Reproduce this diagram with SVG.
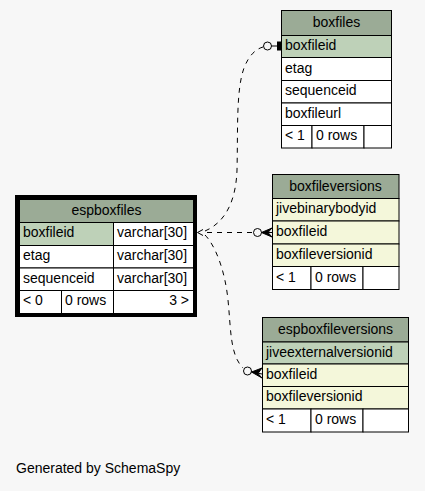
<svg xmlns="http://www.w3.org/2000/svg" width="425" height="491" viewBox="0 0 425 491">
<style>
text{font-family:"Liberation Sans",Arial,sans-serif;font-size:14px;fill:#000}
.c{fill:#fff;stroke:#000;stroke-width:1}
.h{fill:#9bab96;stroke:#000;stroke-width:1}
.pk{fill:#bed1b8;stroke:#000;stroke-width:1}
.fk{fill:#f4f7da;stroke:#000;stroke-width:1}
.mid{text-anchor:middle}
.end{text-anchor:end}
.e{fill:none;stroke:#000;stroke-width:1;stroke-dasharray:5,5}
.m{fill:none;stroke:#000;stroke-width:1}
</style>
<rect width="425" height="491" fill="#f7f7f7"/>
<g id="connectors">
<path class="e" d="M205,231 C226,222 236,200 237,170 C238,130 236,90 244,68 C249,55 256,49 263,47"/>
<path class="e" d="M207,232.5 L253,232.5"/>
<path class="e" d="M205,235 C215,245 225,270 228,300 C231,330 230,355 243,368"/>
<path class="m" d="M203,229.5 L197.5,232.5 L203,235.5"/>
<circle class="m" cx="267.5" cy="46" r="4"/>
<rect x="277" y="41.5" width="4" height="9" fill="#000"/>
<line class="m" x1="271.5" y1="46" x2="281" y2="46"/>
<circle class="m" cx="257.5" cy="232.5" r="4"/>
<path d="M272,228 L261.5,232.5 L272,237 L268,232.5 Z" fill="#000" stroke="#000" stroke-width="1"/>
<line class="m" x1="261.5" y1="232.5" x2="272" y2="232.5"/>
<circle class="m" cx="247.5" cy="371" r="4"/>
<path d="M262,368 L251.5,372 L262,378 L258,373.5 Z" fill="#000" stroke="#000" stroke-width="1"/>
<line class="m" x1="251.5" y1="372" x2="262" y2="374"/>
</g>
<g id="espboxfiles">
<rect x="15" y="195" width="182" height="122" fill="#000"/>
<rect class="h" x="19.5" y="199.5" width="174" height="23"/>
<text class="mid" x="106.5" y="215">espboxfiles</text>
<rect class="pk" x="19.5" y="222.5" width="94" height="23"/>
<rect class="c" x="113.5" y="222.5" width="80" height="23"/>
<text x="23" y="237">boxfileid</text>
<text x="117" y="237">varchar[30]</text>
<rect class="c" x="19.5" y="245.5" width="94" height="22.5"/>
<rect class="c" x="113.5" y="245.5" width="80" height="22.5"/>
<text x="23" y="260">etag</text>
<text x="117" y="260">varchar[30]</text>
<rect class="c" x="19.5" y="268" width="94" height="22.5"/>
<rect class="c" x="113.5" y="268" width="80" height="22.5"/>
<text x="23" y="283">sequenceid</text>
<text x="117" y="283">varchar[30]</text>
<rect class="c" x="19.5" y="290.5" width="42" height="23"/>
<rect class="c" x="61.5" y="290.5" width="52" height="23"/>
<rect class="c" x="113.5" y="290.5" width="80" height="23"/>
<text x="23" y="305">&lt; 0</text>
<text x="65" y="305">0 rows</text>
<text class="end" x="189" y="305">3 &gt;</text>
</g>
<g id="boxfiles">
<rect class="h" x="281.5" y="10.5" width="110" height="25"/>
<text class="mid" x="336.5" y="27">boxfiles</text>
<rect class="pk" x="281.5" y="35.5" width="110" height="22"/>
<text x="285" y="49.5">boxfileid</text>
<rect class="c" x="281.5" y="57.5" width="110" height="23"/>
<text x="285" y="72.5">etag</text>
<rect class="c" x="281.5" y="80.5" width="110" height="22.5"/>
<text x="285" y="95">sequenceid</text>
<rect class="c" x="281.5" y="103" width="110" height="22.5"/>
<text x="285" y="117.5">boxfileurl</text>
<rect class="c" x="281.5" y="125.5" width="30.5" height="22.5"/>
<rect class="c" x="312" y="125.5" width="52" height="22.5"/>
<rect class="c" x="364" y="125.5" width="27.5" height="22.5"/>
<text x="285" y="140">&lt; 1</text>
<text x="316" y="140">0 rows</text>
</g>
<g id="boxfileversions">
<rect class="h" x="272.5" y="174.5" width="126.5" height="24"/>
<text class="mid" x="335.5" y="191">boxfileversions</text>
<rect class="fk" x="272.5" y="198.5" width="126.5" height="22.5"/>
<text x="276" y="213">jivebinarybodyid</text>
<rect class="fk" x="272.5" y="221" width="126.5" height="23"/>
<text x="276" y="236">boxfileid</text>
<rect class="fk" x="272.5" y="244" width="126.5" height="22.5"/>
<text x="276" y="258.5">boxfileversionid</text>
<rect class="c" x="272.5" y="266.5" width="38.5" height="23"/>
<rect class="c" x="311" y="266.5" width="52" height="23"/>
<rect class="c" x="363" y="266.5" width="36" height="23"/>
<text x="276" y="281.5">&lt; 1</text>
<text x="315" y="281.5">0 rows</text>
</g>
<g id="espboxfileversions">
<rect class="h" x="262.5" y="317.5" width="146" height="24.5"/>
<text class="mid" x="335.5" y="334">espboxfileversions</text>
<rect class="pk" x="262.5" y="342" width="146" height="22"/>
<text x="266" y="356.5">jiveexternalversionid</text>
<rect class="fk" x="262.5" y="364" width="146" height="22.5"/>
<text x="266" y="378.5">boxfileid</text>
<rect class="fk" x="262.5" y="386.5" width="146" height="22.5"/>
<text x="266" y="401">boxfileversionid</text>
<rect class="c" x="262.5" y="409" width="48.5" height="23"/>
<rect class="c" x="311" y="409" width="52" height="23"/>
<rect class="c" x="363" y="409" width="45.5" height="23"/>
<text x="266" y="424">&lt; 1</text>
<text x="315" y="424">0 rows</text>
</g>
<text x="16" y="473">Generated by SchemaSpy</text>
</svg>
